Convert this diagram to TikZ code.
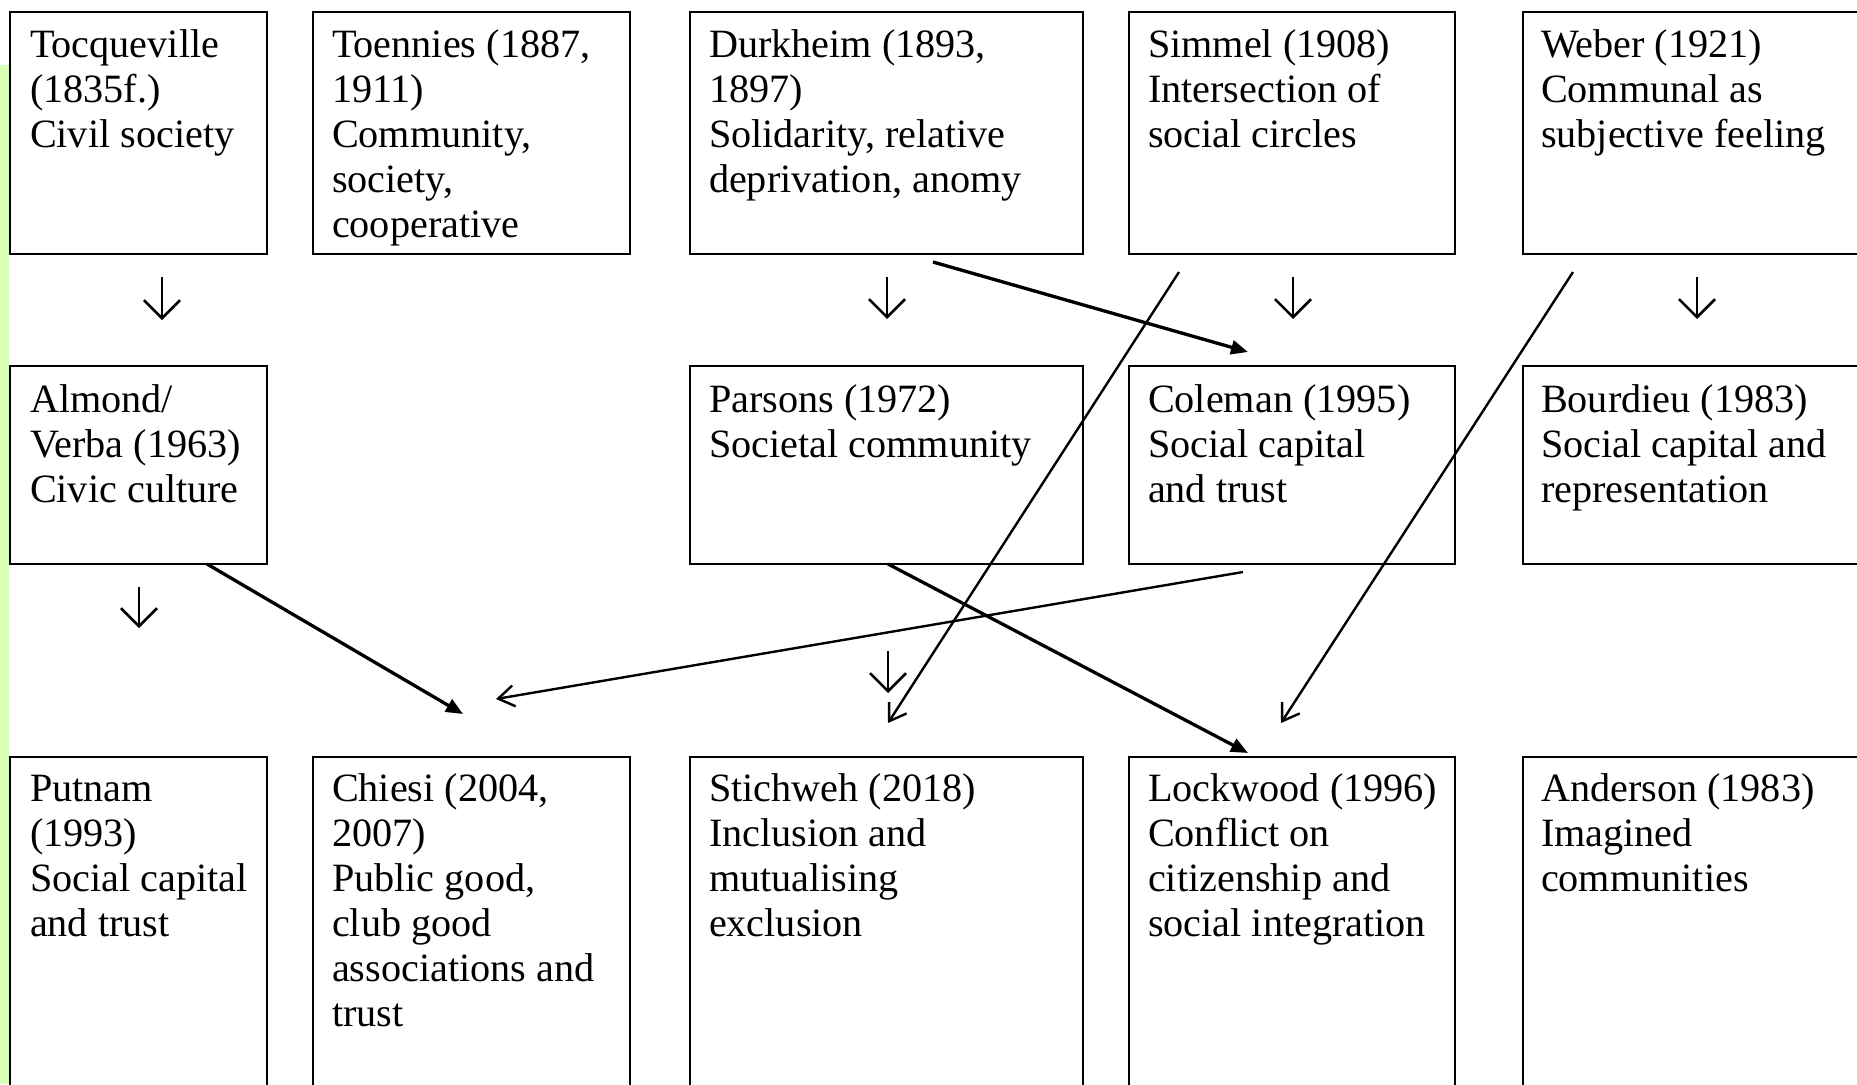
\documentclass[tikz,border=0pt]{standalone}
\usepackage{fontspec}
\setmainfont{Liberation Serif}
\usetikzlibrary{arrows.meta}
\definecolor{stripgreen}{HTML}{D8FFB4}
\newcommand\boxtext[1]{\parbox[t]{500pt}{\raggedright #1}}
\begin{document}
\begin{tikzpicture}[x=1pt,y=-1pt,
  box/.style={draw=black, line width=2.4pt, anchor=north west, inner sep=0pt, outer sep=0pt},
  txt/.style={anchor=base west, inner sep=0pt, outer sep=0pt, font=\fontsize{40.2pt}{45pt}\selectfont},
  bigarrow/.style={line width=3.3pt, -{Triangle[length=17pt,width=14pt]}},
  thinarrow/.style={line width=2.4pt, -{Straight Barb[length=16pt,width=21pt]}},
  downarrow/.style={line width=2.6pt, -{Straight Barb[length=18pt,width=36pt]}}
]
\useasboundingbox (0,0) rectangle (1857,1084);
\fill[stripgreen] (0,65) rectangle (9,1084);

% row 1
\node[box, minimum width=257pt, minimum height=242pt] (toc) at (10,12) {};
\node[box, minimum width=317pt, minimum height=242pt] (toe) at (313,12) {};
\node[box, minimum width=393pt, minimum height=242pt] (dur) at (690,12) {};
\node[box, minimum width=326pt, minimum height=242pt] (sim) at (1129,12) {};
\node[box, minimum width=360pt, minimum height=242pt] (web) at (1523,12) {};
% row 2
\node[box, minimum width=257pt, minimum height=198pt] (alm) at (10,366) {};
\node[box, minimum width=393pt, minimum height=198pt] (par) at (690,366) {};
\node[box, minimum width=326pt, minimum height=198pt] (col) at (1129,366) {};
\node[box, minimum width=360pt, minimum height=198pt] (bou) at (1523,366) {};
% row 3
\node[box, minimum width=257pt, minimum height=360pt] (put) at (10,757) {};
\node[box, minimum width=317pt, minimum height=360pt] (chi) at (313,757) {};
\node[box, minimum width=393pt, minimum height=360pt] (sti) at (690,757) {};
\node[box, minimum width=326pt, minimum height=360pt] (loc) at (1129,757) {};
\node[box, minimum width=360pt, minimum height=360pt] (and) at (1523,757) {};

% texts
\node[txt] (toc-t) at (30,57) {\boxtext{Tocqueville\\(1835f.)\\Civil society}};
\node[txt] (toe-t) at (332,57) {\boxtext{Toennies (1887,\\1911)\\Community,\\society,\\cooperative}};
\node[txt] (dur-t) at (709,57) {\boxtext{Durkheim (1893,\\1897)\\Solidarity, relative\\deprivation, anomy}};
\node[txt] (sim-t) at (1148,57) {\boxtext{Simmel (1908)\\Intersection of\\social circles}};
\node[txt] (web-t) at (1541,57) {\boxtext{Weber (1921)\\Communal as\\subjective feeling}};

\node[txt] (alm-t) at (30,412) {\boxtext{Almond/\\Verba (1963)\\Civic culture}};
\node[txt] (par-t) at (709,412) {\boxtext{Parsons (1972)\\Societal community}};
\node[txt] (col-t) at (1148,412) {\boxtext{Coleman (1995)\\Social capital\\and trust}};
\node[txt] (bou-t) at (1541,412) {\boxtext{Bourdieu (1983)\\Social capital and\\representation}};

\node[txt] (put-t) at (30,801) {\boxtext{Putnam\\(1993)\\Social capital\\and trust}};
\node[txt] (chi-t) at (332,801) {\boxtext{Chiesi (2004,\\2007)\\Public good,\\club good\\associations and\\trust}};
\node[txt] (sti-t) at (709,801) {\boxtext{Stichweh (2018)\\Inclusion and\\mutualising\\exclusion}};
\node[txt] (loc-t) at (1148,801) {\boxtext{Lockwood (1996)\\Conflict on\\citizenship and\\social integration}};
\node[txt] (and-t) at (1541,801) {\boxtext{Anderson (1983)\\Imagined\\communities}};

% small down arrows
\coordinate (d1a) at (162,277); \coordinate (d1b) at (162,320);
\coordinate (d2a) at (887,277); \coordinate (d2b) at (887,319);
\coordinate (d3a) at (1293,277); \coordinate (d3b) at (1293,319);
\coordinate (d4a) at (1697,277); \coordinate (d4b) at (1697,319);
\coordinate (d5a) at (139,587); \coordinate (d5b) at (139,628);
\coordinate (d6a) at (888,651); \coordinate (d6b) at (888,693);
\draw[downarrow] (d1a) -- (d1b);
\draw[downarrow] (d2a) -- (d2b);
\draw[downarrow] (d3a) -- (d3b);
\draw[downarrow] (d4a) -- (d4b);
\draw[downarrow] (d5a) -- (d5b);
\draw[downarrow] (d6a) -- (d6b);

% long arrows
\coordinate (almS) at (207,564);  \coordinate (chiE1) at (463,714);
\coordinate (colS) at (1243,572); \coordinate (chiE2) at (496,699);
\coordinate (durS) at (933,262);  \coordinate (colE) at (1248,352);
\coordinate (simS) at (1179,272); \coordinate (stiE) at (888,723);
\coordinate (webS) at (1573,272); \coordinate (locE1) at (1281,723);
\coordinate (parS) at (888,564);  \coordinate (locE2) at (1248,753);
\draw[bigarrow] (almS) -- (chiE1);
\draw[thinarrow] (colS) -- (chiE2);
\draw[bigarrow] (durS) -- (colE);
\draw[thinarrow] (simS) -- (stiE);
\draw[thinarrow] (webS) -- (locE1);
\draw[bigarrow] (parS) -- (locE2);
\end{tikzpicture}
\end{document}
